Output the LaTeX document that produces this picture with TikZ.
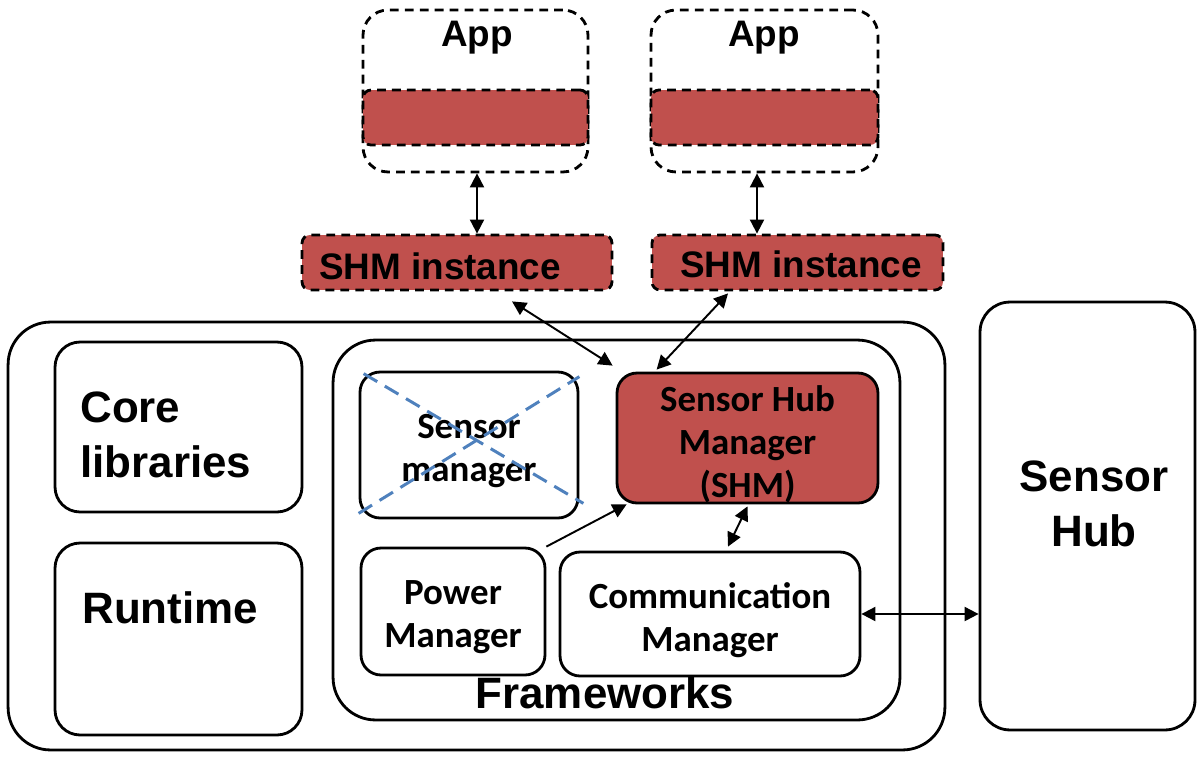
\documentclass[tikz,border=0pt]{standalone}
\usepackage{fontspec}
\setmainfont{Liberation Sans}
\newfontfamily\calib{Carlito}
\usetikzlibrary{arrows.meta, positioning, shapes.geometric}
\definecolor{shmred}{HTML}{C0504D}
\definecolor{crossblue}{HTML}{4F81BD}

\tikzset{
  box/.style={draw, line width=1.6pt, rounded corners=0.4cm, inner sep=0pt},
  bigbox/.style={box, rounded corners=0.85cm},
  appbox/.style={box, dash pattern=on 5pt off 3.5pt, rounded corners=0.5cm},
  band/.style={appbox, fill=shmred, rounded corners=0.16cm},
  big/.style={font=\bfseries\fontsize{25}{31}\selectfont, align=left, inner sep=0pt},
  mid/.style={font=\bfseries\fontsize{21}{24}\selectfont, inner sep=0pt},
  cal/.style={font=\calib\bfseries\fontsize{21}{24.5}\selectfont, align=center, inner sep=0pt},
  dbl/.style={{Triangle[length=8pt,width=8pt]}-{Triangle[length=8pt,width=8pt]}, line width=1.1pt},
  sgl/.style={-{Triangle[length=8pt,width=8pt]}, line width=1.1pt},
  cross/.style={crossblue, line width=1.7pt, dash pattern=on 9pt off 5pt}
}

\begin{document}
\begin{tikzpicture}[x=0.02cm, y=-0.02cm]
    \useasboundingbox (0,0) rectangle (1203,764);

    % Host
    \node[bigbox, minimum width=18.74cm, minimum height=8.56cm] (host) at (476.5,536) {};
    \node[box, rounded corners=0.5cm, minimum width=4.94cm, minimum height=3.4cm] (core) at (178.5,427) {};
    \node[big, anchor=west] (corelbl) at (80,435) {Core\\libraries};
    \node[box, rounded corners=0.5cm, minimum width=4.94cm, minimum height=3.84cm] (runtime) at (178.5,639) {};
    \node[big, anchor=west] (runtimelbl) at (82,608) {Runtime};

    % Frameworks
    \node[bigbox, minimum width=11.34cm, minimum height=7.6cm] (fw) at (616.5,530) {};
    \node[big] (fwlbl) at (605,693) {Frameworks};
    \node[box, minimum width=4.36cm, minimum height=2.92cm] (sens) at (469,445) {};
    \node[cal] (senslbl) at (469,451) {Sensor\\manager};
    \node[box, fill=shmred, minimum width=5.22cm, minimum height=2.6cm] (shm) at (747.5,438) {};
    \node[cal] (shmlbl) at (747.5,444) {Sensor Hub\\Manager\\(SHM)};
    \node[box, minimum width=3.68cm, minimum height=2.54cm] (power) at (453,611.5) {};
    \node[cal] (powerlbl) at (453,617.5) {Power\\Manager};
    \node[box, minimum width=6cm, minimum height=2.48cm] (comm) at (710,614) {};
    \node[cal] (commlbl) at (710,620) {Communication\\Manager};

    % Sensor hub
    \node[box, rounded corners=0.6cm, minimum width=4.3cm, minimum height=8.56cm] (hub) at (1087.5,516) {};
    \node[big, align=center] (hublbl) at (1094,504) {Sensor\\Hub};

    % Apps
    \node[appbox, minimum width=4.5cm, minimum height=3.24cm] (app1) at (475.5,91) {};
    \node[band, minimum width=4.5cm, minimum height=1.1cm] (band1) at (475.5,117.5) {};
    \node[mid] (app1lbl) at (477,38) {App};
    \node[appbox, minimum width=4.54cm, minimum height=3.24cm] (app2) at (764.5,91) {};
    \node[band, minimum width=4.54cm, minimum height=1.1cm] (band2) at (764.5,117.5) {};
    \node[mid] (app2lbl) at (764,38) {App};

    % SHM instances
    \node[band, minimum width=6.2cm, minimum height=1.1cm] (inst1) at (457,262.5) {};
    \node[mid] (inst1lbl) at (440,266) {SHM instance};
    \node[band, minimum width=5.82cm, minimum height=1.1cm] (inst2) at (797.5,262.5) {};
    \node[mid] (inst2lbl) at (801,264) {SHM instance};

    % Crossed out
    \draw[cross] ([xshift=0.1cm,yshift=-0.06cm]sens.north west) -- ([xshift=0.08cm,yshift=0.32cm]sens.south east);
    \draw[cross] ([yshift=0.12cm]sens.south west) -- ([yshift=-0.12cm]sens.north east);

    % Connections
    \draw[dbl] ([xshift=0.03cm]app1.south) -- ([xshift=0.03cm]app1.south |- inst1.north);
    \draw[dbl] ([xshift=-0.15cm]app2.south) -- ([xshift=-0.15cm]app2.south |- inst2.north);
    \draw[dbl] ([xshift=1.1cm,yshift=-0.2cm]inst1.south) -- ([xshift=-0.06cm,yshift=0.12cm]shm.north west);
    \draw[dbl] ([xshift=-1.39cm,yshift=-0.04cm]inst2.south) -- ([xshift=0.82cm,yshift=0.04cm]shm.north west);
    \draw[sgl] (power.north east) -- ([xshift=0.22cm]shm.south west);
    \draw[dbl] ([yshift=-0.04cm]shm.south) -- ([xshift=0.36cm,yshift=0.08cm]comm.north);
    \draw[dbl] (comm.east) -- (comm.east -| hub.west);
\end{tikzpicture}
\end{document}
